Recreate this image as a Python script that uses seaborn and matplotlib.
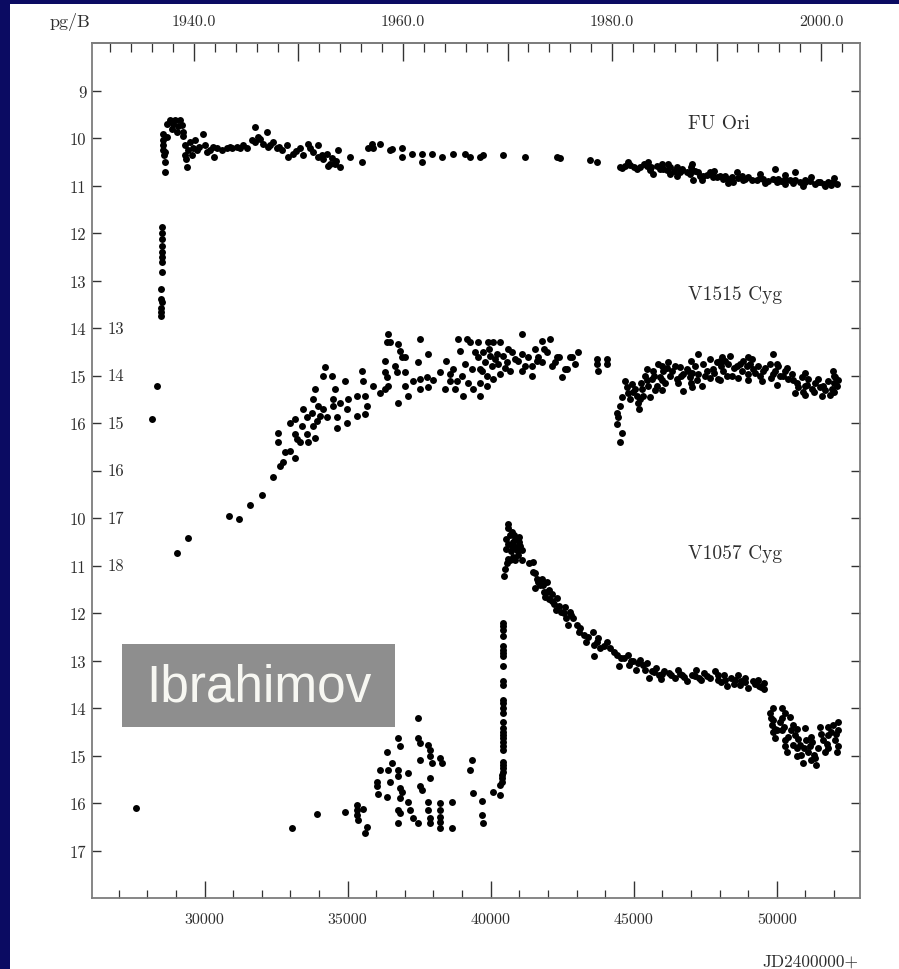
import matplotlib
matplotlib.use("Agg")
import matplotlib.pyplot as plt
import matplotlib.transforms as mtransforms
from matplotlib.patches import Rectangle
import pandas as pd
import seaborn as sns

# ---------------- data (JD-2400000, magnitude) ----------------
FU_ORI = [
    (28162, 15.92), (28337, 15.22),
    (28512, 11.88), (28512, 11.99), (28512, 12.12), (28512, 12.27), (28512, 12.41),
    (28512, 12.51), (28512, 12.62), (28494, 12.83), (28477, 13.18), (28477, 13.39),
    (28494, 13.46), (28477, 13.57), (28460, 13.67), (28477, 13.74),
    (28557, 9.91), (28557, 10.05), (28557, 10.15), (28557, 10.26), (28580, 10.36),
    (28617, 10.50), (28617, 10.71), (28676, 9.98), (28792, 9.63), (28851, 9.80),
    (28966, 9.63), (29026, 9.87), (29141, 9.63), (29200, 9.73), (29256, 9.87),
    (29316, 10.15), (29316, 10.36), (29375, 10.61), (29431, 10.26), (29491, 10.08),
    (29606, 10.22), (29665, 10.05), (29725, 10.26), (29955, 9.91), (30015, 10.15),
    (30074, 10.29), (30305, 10.19), (30329, 10.40), (30598, 10.26), (30773, 10.22),
    (30948, 10.22), (31122, 10.19), (31353, 10.15), (31472, 10.22), (31762, 9.77),
    (31762, 10.08), (31877, 9.98), (32052, 10.12), (32171, 9.87), (32227, 10.19),
    (32402, 10.08), (32521, 10.22), (32696, 10.26), (32870, 10.15), (32926, 10.40),
    (33101, 10.33), (33335, 10.22), (33450, 10.36), (33625, 10.12), (33800, 10.29),
    (33975, 10.15), (33975, 10.40), (34093, 10.36), (34268, 10.33), (34324, 10.58),
    (34443, 10.43), (34558, 10.54), (34673, 10.26), (34733, 10.61), (35083, 10.40),
    (35491, 10.50), (35722, 10.22), (35841, 10.12), (36131, 10.12), (36481, 10.26),
    (36890, 10.22), (36890, 10.40), (37239, 10.33), (37589, 10.33), (37589, 10.50),
    (37938, 10.33), (38287, 10.40), (38693, 10.33), (39102, 10.33), (39277, 10.40),
    (39626, 10.40), (39741, 10.36), (40440, 10.35), (41199, 10.40), (42306, 10.40),
    (42422, 10.43), (43471, 10.47), (43704, 10.50), (44519, 10.61), (44869, 10.56),
    (45218, 10.61), (45452, 10.59), (45683, 10.75), (45802, 10.58), (45977, 10.54),
    (46033, 10.65), (46267, 10.61), (46267, 10.75), (46501, 10.61), (46675, 10.65),
    (46850, 10.72), (47025, 10.54), (47025, 10.68), (47081, 10.89), (47255, 10.72),
    (47430, 10.79), (47724, 10.75), (47780, 10.82), (48014, 10.79), (48129, 10.86),
    (48423, 10.82), (48479, 10.93), (48772, 10.79), (48828, 10.89), (49122, 10.89),
    (49527, 10.86), (49877, 10.86), (49936, 10.65), (49995, 10.93), (50286, 10.86),
    (50286, 10.96), (50635, 10.72), (50635, 10.89), (50985, 10.93), (51334, 10.96),
    (51509, 10.93), (51799, 10.93), (52093, 10.96),
    (44700, 10.58), (45000, 10.62), (45350, 10.55), (45600, 10.60), (45900, 10.66),
    (46150, 10.68), (46400, 10.70), (46600, 10.72), (46950, 10.75), (47150, 10.70),
    (47550, 10.78), (47900, 10.82), (48300, 10.86), (48650, 10.84), (49000, 10.82),
    (49300, 10.88), (49700, 10.90), (50150, 10.90), (50450, 10.88), (50800, 10.92),
    (51150, 10.90), (51650, 10.97), (51950, 10.92),
    (28700, 9.70), (28900, 9.70), (29080, 9.75), (29250, 9.95), (29350, 10.45),
    (28620, 10.30), (29550, 10.35), (29800, 10.18), (30200, 10.25), (30450, 10.22),
    (30900, 10.18), (31250, 10.20), (31650, 10.05), (31950, 10.02), (32300, 10.14),
    (32600, 10.18), (33200, 10.28), (33700, 10.22), (34150, 10.45), (34400, 10.55),
    (34600, 10.48), (35900, 10.20), (36550, 10.24), (44600, 10.64), (45100, 10.66),
    (45550, 10.68), (46000, 10.62), (46700, 10.68), (47300, 10.80), (47650, 10.72),
    (48200, 10.80), (48900, 10.86), (49400, 10.84), (50050, 10.86), (50550, 10.95),
    (51000, 10.88), (51450, 10.92), (51900, 10.98),
    (44800, 10.50), (45500, 10.50), (46200, 10.55), (47000, 10.62), (47800, 10.70),
    (48600, 10.72), (49400, 10.75), (50300, 10.78), (51200, 10.82), (52000, 10.85),
    (46500, 10.80), (47400, 10.88), (48300, 10.95), (49600, 10.95), (50900, 11.00),
    (51700, 11.02),
]

V1515_CYG = [
    (29036, 17.73), (29421, 17.43), (30854, 16.95), (31203, 17.03), (31588, 16.73),
    (32007, 16.52), (32392, 16.14),
    (32636, 15.90), (32752, 15.83), (32577, 15.41), (32577, 15.20), (32811, 15.62),
    (32986, 15.59), (33160, 15.73), (32986, 14.99), (33160, 15.24), (33219, 15.34),
    (33394, 15.06), (33335, 15.41), (33160, 14.92), (33450, 14.71), (33569, 15.24),
    (33569, 14.88), (33625, 15.41), (33744, 14.78), (33800, 15.06), (33859, 15.31),
    (33918, 14.95), (33800, 14.50), (33859, 14.29), (34034, 14.85), (33975, 14.64),
    (34149, 14.71), (34209, 13.83), (34149, 14.01), (34268, 14.88), (34443, 14.01),
    (34499, 14.50), (34558, 14.29), (34499, 14.64), (34618, 15.10), (34618, 14.88),
    (34733, 14.57), (34908, 14.11), (34967, 14.71), (35023, 14.50), (34967, 14.99),
    (35316, 14.43), (35316, 14.85), (35491, 13.90), (35547, 14.11), (35607, 14.43),
    (35666, 14.64), (35607, 14.81), (35897, 14.22), (36131, 14.36), (36306, 14.29),
    (36421, 14.22), (36306, 13.93), (36306, 13.69), (36365, 13.30), (36421, 13.13),
    (36481, 13.30), (36365, 14.04), (36655, 13.80), (36715, 13.93), (36770, 14.57),
    (36770, 13.34), (36830, 13.48), (36890, 13.62), (37005, 14.22), (37005, 13.93),
    (37120, 14.43), (37005, 13.62), (37295, 14.11), (37470, 13.72), (37529, 13.23),
    (37529, 14.08), (37529, 14.29), (37819, 13.55), (37763, 14.04), (37819, 14.25),
    (38228, 13.93), (38403, 14.29), (38578, 13.97), (38578, 14.11), (38693, 13.86),
    (38752, 14.29), (38812, 14.11), (38868, 13.23), (38927, 13.48), (38986, 14.01),
    (39042, 14.43), (39161, 13.23), (39217, 14.15), (39277, 13.30), (39336, 13.86),
    (39392, 14.29), (39567, 13.30), (39567, 13.62), (39626, 13.86), (39626, 14.15),
    (39626, 14.43), (39741, 13.51), (39801, 13.72), (39860, 14.01), (39860, 14.22),
    (39916, 13.30), (39976, 13.58), (40035, 13.80), (40091, 14.08), (40091, 13.30),
    (40210, 13.55), (40265, 13.76), (40325, 13.97), (40325, 13.30), (40440, 13.58),
    (40559, 13.72), (40675, 13.90), (40849, 13.65), (41083, 13.13), (41083, 13.55),
    (41083, 13.90), (41316, 13.62), (41433, 13.80), (41433, 14.01), (41548, 13.44),
    (41663, 13.62), (41782, 13.27), (41782, 13.72), (41957, 13.51), (42072, 13.23),
    (42132, 13.80), (42306, 13.62), (42481, 14.04), (42656, 13.86), (42772, 13.62),
    (42946, 13.76), (43061, 13.51), (43704, 13.76), (43704, 13.65), (43760, 13.90),
    (44053, 13.65), (44053, 13.76), (42247, 13.72), (42597, 13.86), (42831, 13.62),
    (38000, 14.10), (38450, 13.70), (39450, 13.50), (39700, 13.90), (40150, 13.65),
    (40600, 13.45), (40950, 13.70), (41200, 13.80), (41600, 13.70), (41850, 13.45),
    (42400, 13.60), (39100, 13.75), (39950, 13.45), (40500, 13.85), (40750, 13.50),
    (44404, 14.78), (44404, 15.03), (44460, 14.88), (44519, 14.64), (44578, 14.46),
    (44578, 15.20), (44519, 15.40),
    (44694, 14.11), (44753, 14.25), (44809, 14.36), (44869, 14.50), (44928, 14.18),
    (45043, 14.29), (45102, 14.43), (45158, 14.57), (45193, 14.71), (45277, 14.29),
    (45333, 14.43), (45393, 14.01), (45452, 13.86), (45508, 14.22), (45568, 14.46),
    (45627, 14.08), (45683, 13.90), (45802, 14.22), (45858, 13.76), (45917, 14.04),
    (46033, 13.90), (46092, 14.15), (46207, 13.72), (46267, 14.01), (46442, 13.80),
    (46501, 14.08), (46617, 13.83), (46733, 14.32), (46733, 13.97), (46850, 13.86),
    (46966, 14.04), (47025, 14.25), (47140, 13.80), (47255, 13.55), (47255, 13.97),
    (47374, 14.22), (47430, 13.76), (47549, 13.90), (47665, 13.65), (47780, 13.86),
    (47899, 13.72), (47955, 14.08), (48073, 13.62), (48129, 13.90), (48304, 13.76),
    (48364, 13.58), (48423, 14.01), (48598, 13.80), (48772, 13.90), (48828, 13.69),
    (49003, 13.97), (49122, 13.65), (49178, 13.86), (49352, 13.80), (49471, 14.11),
    (49527, 13.90), (49762, 13.76), (49877, 13.55), (49877, 13.97), (50052, 13.80),
    (50111, 14.01), (50286, 13.90), (50401, 14.08), (50519, 13.97), (50635, 14.36),
    (50694, 14.15), (50869, 14.04), (50985, 14.22), (51100, 14.08), (51219, 14.29),
    (51334, 14.15), (51450, 14.08), (51569, 14.43), (51625, 14.22), (51800, 14.11),
    (51919, 14.29), (51974, 13.90), (52033, 14.04), (52093, 14.22),
    (44980, 14.35), (45200, 14.50), (45450, 14.10), (45700, 14.00), (46000, 14.10),
    (46350, 13.90), (46650, 14.00), (46900, 13.90), (47200, 14.10), (47500, 14.00),
    (47800, 13.95), (48050, 13.80), (48250, 14.00), (48500, 13.85), (48700, 13.75),
    (48950, 13.80), (49250, 13.95), (49600, 13.85), (49950, 13.90), (50200, 14.00),
    (50550, 14.10), (50750, 14.25), (51050, 14.20), (51300, 14.35), (51700, 14.30),
    (52000, 14.15), (52120, 14.10), (45250, 14.15), (45750, 14.30), (46150, 13.85),
    (46550, 14.15), (47050, 13.95), (47650, 14.05), (48200, 13.70), (48650, 14.05),
    (49050, 13.75), (49400, 14.00), (49800, 14.05), (50350, 13.85), (50900, 14.35),
    (51500, 14.25), (51850, 14.40),
    (46000, 13.80), (46000, 14.30), (47000, 13.70), (47000, 14.15), (48000, 13.70),
    (48000, 14.10), (49000, 13.60), (49000, 14.10), (50000, 13.75), (50000, 14.20),
    (51000, 13.95), (51000, 14.40), (52000, 14.00), (52000, 14.35),
]

V1057_CYG = [
    (27603, 16.11), (33045, 16.53), (33919, 16.24), (34908, 16.18), (35317, 16.04),
    (35317, 16.15), (35317, 16.25), (35372, 16.36), (35547, 16.13), (35666, 16.50),
    (35607, 16.64), (36016, 15.55), (36016, 15.65), (36072, 15.80), (36131, 15.30),
    (36365, 14.92), (36421, 15.30), (36365, 15.87), (36540, 15.16), (36481, 15.55),
    (36770, 14.64), (36830, 14.81), (36770, 15.30), (36770, 15.44), (36830, 15.69),
    (36890, 15.76), (36830, 15.90), (36770, 16.15), (36830, 16.22), (36770, 16.43),
    (37120, 15.37), (37120, 15.97), (37180, 16.15), (37295, 16.32), (37470, 14.21),
    (37470, 14.64), (37529, 14.74), (37529, 15.09), (37529, 15.65), (37589, 15.72),
    (37470, 16.43), (37819, 14.78), (37879, 14.88), (37879, 15.02), (37938, 15.16),
    (37879, 15.48), (37819, 15.97), (37819, 16.15), (37879, 16.32), (37879, 16.43),
    (38228, 15.06), (38287, 15.16), (38228, 16.01), (38228, 16.15), (38228, 16.29),
    (38228, 16.39), (38228, 16.53), (38637, 15.97), (38637, 16.53), (39336, 15.09),
    (39277, 15.30), (39392, 15.78), (39686, 15.95), (39686, 16.25), (39741, 16.43),
    (40091, 15.76), (40325, 15.83), (40325, 15.62),
    (40440, 12.21), (40440, 12.28), (40440, 12.35), (40440, 12.49), (40440, 12.70),
    (40440, 12.77), (40440, 12.84), (40440, 12.91), (40440, 13.12), (40440, 13.44),
    (40440, 13.51), (40440, 13.83), (40440, 13.90), (40440, 14.00), (40440, 14.11),
    (40440, 14.29), (40440, 14.42), (40440, 14.50), (40440, 14.57), (40440, 14.64),
    (40430, 14.71), (40430, 14.81), (40430, 14.88), (40420, 15.13), (40420, 15.20),
    (40420, 15.27), (40420, 15.34), (40410, 15.41), (40410, 15.48), (40400, 15.55),
    (40485, 11.08), (40464, 11.23), (40604, 10.12), (40604, 10.20), (40545, 10.44),
    (40545, 10.65), (40604, 10.86), (40727, 10.30), (40727, 10.58), (40790, 10.82),
    (40850, 10.44), (40912, 10.68), (40975, 10.41), (41038, 10.58), (41101, 10.89),
    (41101, 10.68), (40668, 10.89), (40850, 10.89), (40660, 10.35), (40780, 10.50),
    (40960, 10.78), (40620, 10.55), (40880, 10.60), (40700, 10.70), (41000, 10.50),
    (40820, 10.35), (40560, 10.95),
    (41478, 10.93), (41478, 11.13), (41541, 11.48), (41600, 11.28), (41723, 11.42),
    (41786, 11.28), (41845, 11.55), (41908, 11.66), (41968, 11.35), (42031, 11.52),
    (42153, 11.59), (42212, 11.80), (42272, 11.94), (42331, 11.69), (42454, 11.97),
    (42580, 11.87), (42639, 12.11), (42702, 12.25), (42761, 11.97), (42884, 12.11),
    (43006, 12.25), (43128, 12.32), (43250, 12.46), (43313, 12.60), (43558, 12.39),
    (43621, 12.67), (43621, 12.91), (43740, 12.53), (43803, 12.74), (44047, 12.60),
    (44170, 12.74), (44415, 12.88), (44477, 13.12), (44659, 12.95), (44781, 12.88),
    (44844, 13.09), (44966, 13.02), (45088, 13.19), (45211, 12.98), (45333, 13.09),
    (45456, 13.05), (45519, 13.37), (45637, 13.23), (45759, 13.16), (45882, 13.30),
    (46061, 13.23), (46246, 13.26), (46428, 13.37), (46546, 13.19), (46672, 13.30),
    (46857, 13.43), (47039, 13.30), (47162, 13.19), (47284, 13.37), (47466, 13.26),
    (47651, 13.37), (47833, 13.23), (47955, 13.40), (48140, 13.30), (48262, 13.54),
    (48384, 13.37), (48507, 13.50), (48629, 13.30), (48751, 13.43), (48874, 13.37),
    (48996, 13.57), (49181, 13.43), (49363, 13.54), (49545, 13.47), (49545, 13.61),
    (41350, 10.95), (41650, 11.35), (41950, 11.55), (42150, 11.75), (42400, 11.85),
    (42550, 12.00), (42820, 12.05), (43080, 12.40), (43400, 12.50), (43700, 12.60),
    (43950, 12.70), (44300, 12.82), (44560, 12.95), (44900, 13.00), (45150, 13.05),
    (45400, 13.20), (45700, 13.25), (46000, 13.28), (46300, 13.30), (46750, 13.35),
    (47150, 13.32), (47550, 13.32), (47950, 13.30), (48200, 13.42), (48550, 13.40),
    (48900, 13.45), (49250, 13.50), (49450, 13.55), (41550, 11.15), (41820, 11.40),
    (42050, 11.70), (45950, 13.38), (46600, 13.28), (47350, 13.42), (48050, 13.45),
    (48700, 13.52), (49350, 13.40),
    (49762, 14.10), (49832, 14.35), (49936, 14.63), (49867, 14.25), (50006, 14.46),
    (50181, 13.99), (50181, 14.21), (50181, 14.46), (50251, 14.40), (50286, 14.67),
    (50356, 14.92), (50460, 14.19), (50495, 14.46), (50565, 14.78), (50635, 14.57),
    (50705, 14.84), (50810, 14.78), (50845, 14.99), (50915, 15.16), (50985, 14.42),
    (51020, 14.67), (51090, 14.92), (51229, 14.71), (51299, 14.99), (51369, 15.20),
    (51439, 14.84), (51509, 14.40), (51614, 14.67), (51684, 14.92), (51789, 14.57),
    (51963, 14.35), (52033, 14.67), (52103, 14.92), (52138, 14.46),
    (49800, 14.20), (49950, 14.45), (50100, 14.30), (50400, 14.60), (50550, 14.35),
    (50750, 14.65), (50950, 14.85), (51150, 14.80), (51350, 15.05), (51550, 14.55),
    (51750, 14.75), (51900, 14.50), (52080, 14.55),
    (49850, 14.00), (49850, 14.50), (50300, 14.10), (50300, 14.80), (50700, 14.45),
    (50700, 15.00), (51200, 14.60), (51200, 15.10), (51800, 14.40), (51800, 14.85),
    (52140, 14.30), (52140, 14.80),
]

STAR_NAMES = ["FU Ori", "V1515 Cyg", "V1057 Cyg"]
STAR_DATA = [FU_ORI, V1515_CYG, V1057_CYG]
STAR_SHIFT = [0, 1, 8]            # vertical shift of each light curve in the stacked panel

JD_TICKS = [30000, 35000, 40000, 45000, 50000]
JD_LABELS = ["30000", "35000", "40000", "45000", "50000"]
YEAR_TICKS = [1940, 1950, 1960, 1970, 1980, 1990, 2000]
YEAR_LABELS = ["1940.0", "", "1960.0", "", "1980.0", "", "2000.0"]
OUTER_TICKS = list(range(9, 26))
OUTER_LABELS = ["9", "10", "11", "12", "13", "14", "15", "16", "",
                "10", "11", "12", "13", "14", "15", "16", "17"]
INNER_TICKS = [14, 15, 16, 17, 18, 19]
INNER_LABELS = ["13", "14", "15", "16", "17", "18"]

# ---------------- figure ----------------
W, H = 899, 970
NAVY = "#0b0b62"
TXT = "#2e2e2e"
SERIF = ["cmr10", "DejaVu Serif"]

fig = plt.figure(figsize=(W / 100, H / 100), dpi=100, facecolor=NAVY)
plt.rcParams["font.family"] = SERIF
plt.rcParams["axes.formatter.use_mathtext"] = True

def fx(px):
    return px / W

def fy(py):
    return 1 - py / H

fig.add_artist(Rectangle((fx(10), 0), 1 - fx(10), fy(5), transform=fig.transFigure,
                         facecolor="white", edgecolor="none", zorder=-5))

ax = fig.add_axes([fx(92), fy(899), fx(860) - fx(92), fy(44) - fy(899)])

rows = []
for name, data, shift in zip(STAR_NAMES, STAR_DATA, STAR_SHIFT):
    for jd, mag in data:
        rows.append({"star": name, "JD": jd, "mag": mag, "plot_y": mag + shift})
df = pd.DataFrame(rows)

sns.scatterplot(data=df, x="JD", y="plot_y", color="black", s=25, linewidth=0,
                legend=False, ax=ax)

ax.set_xlim(26065, 52906)
ax.set_ylim(26, 8)
ax.set_xlabel("")
ax.set_ylabel("")
ax.set_facecolor("white")

for sp in ax.spines.values():
    sp.set_color("#7d7d7d")
    sp.set_linewidth(1.3)

ax.set_xticks(JD_TICKS)
ax.set_xticklabels(JD_LABELS)
ax.set_xticks(list(range(27000, 53000, 1000)), minor=True)
ax.tick_params(axis="x", which="major", direction="in", length=12, width=1,
               color="#333333", labelsize=11.5, labelcolor=TXT, pad=10,
               top=False, bottom=True)
ax.tick_params(axis="x", which="minor", direction="in", length=6, width=0.9,
               color="#333333", top=False, bottom=True)

ax.set_yticks(OUTER_TICKS)
ax.set_yticklabels(OUTER_LABELS)
ax.tick_params(axis="y", which="major", direction="in", length=6.5, width=1,
               color="#333333", labelsize=12, labelcolor=TXT, pad=4,
               left=True, right=True)
ax.tick_params(axis="y", which="minor", left=False, right=False)

blend = mtransforms.blended_transform_factory(ax.transAxes, ax.transData)
for t, lab in zip(INNER_TICKS, INNER_LABELS):
    ax.text((108 - 92) / 768, t, lab, transform=blend, ha="left", va="center",
            fontsize=12, color=TXT, family=SERIF)

def jd2yr(jd):
    return 1940.0 + (jd - 29629.5) / 365.25

def yr2jd(yr):
    return 29629.5 + (yr - 1940.0) * 365.25

sec = ax.secondary_xaxis("top", functions=(jd2yr, yr2jd))
sec.set_xticks(YEAR_TICKS)
sec.set_xticklabels(YEAR_LABELS)
sec.set_xticks(list(range(1932, 2004, 2)), minor=True)
sec.tick_params(axis="x", which="major", direction="in", length=13, width=1,
                color="#333333", labelsize=11.5, labelcolor=TXT, pad=11)
sec.tick_params(axis="x", which="minor", direction="in", length=6.5, width=0.9,
                color="#333333")
sec.spines["top"].set_color("#7d7d7d")
sec.spines["top"].set_linewidth(1.3)

label_y = [9.675, 13.28, 18.73]
for name, yv in zip(STAR_NAMES, label_y):
    ax.text((688 - 92) / 768, yv, name, transform=blend, ha="left", va="center",
            fontsize=14, color=TXT, family=SERIF)

fig.text(fx(70), fy(22), "pg/B", ha="center", va="center", fontsize=13,
         color=TXT, family=SERIF)
fig.text(fx(858), fy(962), "JD2400000+", ha="right", va="center", fontsize=12.5,
         color=TXT, family=SERIF)

fig.add_artist(Rectangle((fx(122), fy(728)), fx(395) - fx(122), fy(645) - fy(728),
                         transform=fig.transFigure, facecolor="#8e8e8e",
                         edgecolor="none", zorder=5))
fig.text(fx(259), fy(688), "Ibrahimov", ha="center", va="center", fontsize=37,
         color="#f7f7f2", family=["Liberation Sans", "DejaVu Sans"], zorder=6)

fig.savefig("out.png", dpi=100, facecolor=NAVY)
